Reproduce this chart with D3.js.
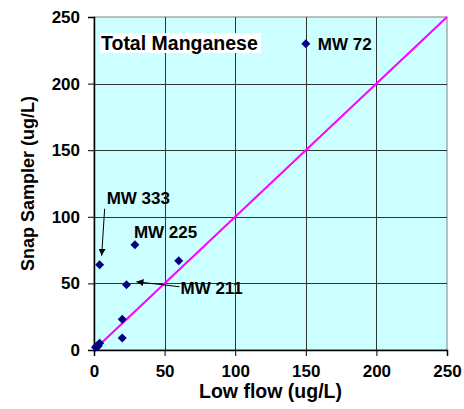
<!DOCTYPE html>
<html>
<head>
<meta charset="utf-8">
<script src="https://cdn.jsdelivr.net/npm/d3@7"></script>
<style>
  body { margin: 0; background: #fff; }
  text { font-family: Arial, "Liberation Sans", sans-serif; font-weight: bold; }
</style>
</head>
<body>
<div id="chart"></div>
<script>
// data
var lowFlow = [1, 2, 3, 4, 20, 20, 23, 4, 29, 60, 150];
var snapSampler = [2, 3, 3, 5, 9, 23, 49, 64, 79, 67, 230];
var tickValues = [0, 50, 100, 150, 200, 250];
var callouts = [
    {name: "MW 72", idx: 10},
    {name: "MW 333", idx: 7},
    {name: "MW 225", idx: 8},
    {name: "MW 211", idx: 6}
];

var width = 464, height = 409;
var margin = {top: 17, right: 17, bottom: 59, left: 94};
var plotW = width - margin.left - margin.right,
    plotH = height - margin.top - margin.bottom;

var svg = d3.select("#chart")
    .append("svg")
    .attr("width", width)
    .attr("height", height);

var x = d3.scaleLinear().domain([0, 250]).range([margin.left, margin.left + plotW]);
var y = d3.scaleLinear().domain([0, 250]).range([margin.top + plotH, margin.top]);

// plot background
svg.append("rect")
    .attr("x", x(0))
    .attr("y", y(250))
    .attr("width", x(250) - x(0))
    .attr("height", y(0) - y(250))
    .attr("fill", "#CCFFFF")
    .attr("stroke", "#808080")
    .attr("stroke-width", 1);

// gridlines
var inner = tickValues.slice(1, -1);
svg.append("g").selectAll("line.v")
    .data(inner).enter()
    .append("line")
    .attr("x1", function (d) { return Math.round(x(d)) + 0.5; })
    .attr("x2", function (d) { return Math.round(x(d)) + 0.5; })
    .attr("y1", y(0))
    .attr("y2", y(250))
    .attr("stroke", "#333")
    .attr("stroke-width", 1);
svg.append("g").selectAll("line.h")
    .data(inner).enter()
    .append("line")
    .attr("y1", function (d) { return Math.round(y(d)) + 0.5; })
    .attr("y2", function (d) { return Math.round(y(d)) + 0.5; })
    .attr("x1", x(0))
    .attr("x2", x(250))
    .attr("stroke", "#333")
    .attr("stroke-width", 1);

// title box
var titleG = svg.append("g");
titleG.append("rect")
    .attr("x", 100)
    .attr("y", 33)
    .attr("width", 161)
    .attr("height", 20)
    .attr("fill", "#fff");
titleG.append("text")
    .attr("x", 101)
    .attr("y", 49.5)
    .style("font-size", "19.5px")
    .text("Total Manganese");

// 1:1 line
svg.append("line")
    .attr("x1", x(0))
    .attr("y1", y(0))
    .attr("x2", x(250))
    .attr("y2", y(250))
    .attr("stroke", "#FF00FF")
    .attr("stroke-width", 2);

// axes
var xAxis = d3.axisBottom(x).tickValues(tickValues).tickSize(6).tickPadding(9);
var yAxis = d3.axisLeft(y).tickValues(tickValues).tickSize(6).tickPadding(8);

var gx = svg.append("g")
    .attr("transform", "translate(0," + y(0) + ")")
    .call(xAxis);
var gy = svg.append("g")
    .attr("transform", "translate(" + x(0) + ",0)")
    .call(yAxis);
[gx, gy].forEach(function (g) {
    g.selectAll("path").attr("stroke", "#000").attr("stroke-width", 1.5);
    g.selectAll("line").attr("stroke", "#000");
    g.selectAll("text")
        .attr("fill", "#000")
        .style("font-size", "17px")
        .style("font-family", "Arial, 'Liberation Sans', sans-serif")
        .style("font-weight", "bold");
});

// points
var pts = lowFlow.map(function (d, i) { return [d, snapSampler[i]]; });
svg.append("g").selectAll("path")
    .data(pts).enter()
    .append("path")
    .attr("d", "M0,-4.5L4.5,0L0,4.5L-4.5,0Z")
    .attr("transform", function (d) { return "translate(" + x(d[0]) + "," + y(d[1]) + ")"; })
    .attr("fill", "#000080");

// arrow marker
svg.append("defs").append("marker")
    .attr("id", "arr")
    .attr("viewBox", "0 0 10 10")
    .attr("refX", 10)
    .attr("refY", 5)
    .attr("markerWidth", 7)
    .attr("markerHeight", 7)
    .attr("markerUnits", "userSpaceOnUse")
    .attr("orient", "auto")
    .append("path")
    .attr("d", "M0,0L10,5L0,10Z")
    .attr("fill", "#000");

// callout labels
var p72 = pts[callouts[0].idx], p333 = pts[callouts[1].idx],
    p225 = pts[callouts[2].idx], p211 = pts[callouts[3].idx];
var lab = svg.append("g").style("font-size", "17px");
lab.append("text").attr("x", x(p72[0]) + 12).attr("y", y(p72[1]) + 6).text(callouts[0].name);
lab.append("text").attr("x", x(p333[0]) + 7).attr("y", y(p333[1]) - 61).text(callouts[1].name);
lab.append("text").attr("x", x(p225[0]) - 1).attr("y", y(p225[1]) - 7).text(callouts[2].name);
lab.append("text").attr("x", x(p211[0]) + 54).attr("y", y(p211[1]) + 9).text(callouts[3].name);

svg.append("line")
    .attr("x1", x(p333[0]) + 5).attr("y1", y(p333[1]) - 56)
    .attr("x2", x(p333[0]) + 2).attr("y2", y(p333[1]) - 9)
    .attr("stroke", "#000").attr("stroke-width", 1)
    .attr("marker-end", "url(#arr)");
svg.append("line")
    .attr("x1", x(p211[0]) + 53).attr("y1", y(p211[1]) + 2)
    .attr("x2", x(p211[0]) + 10).attr("y2", y(p211[1]) - 3)
    .attr("stroke", "#000").attr("stroke-width", 1)
    .attr("marker-end", "url(#arr)");

// axis titles
svg.append("text")
    .attr("x", (x(0) + x(250)) / 2)
    .attr("y", 397.5)
    .attr("text-anchor", "middle")
    .style("font-size", "19.5px")
    .text("Low flow (ug/L)");
svg.append("text")
    .attr("transform", "translate(34," + ((y(0) + y(250)) / 2) + ") rotate(-90)")
    .attr("text-anchor", "middle")
    .style("font-size", "18px")
    .text("Snap Sampler (ug/L)");
</script>
</body>
</html>
